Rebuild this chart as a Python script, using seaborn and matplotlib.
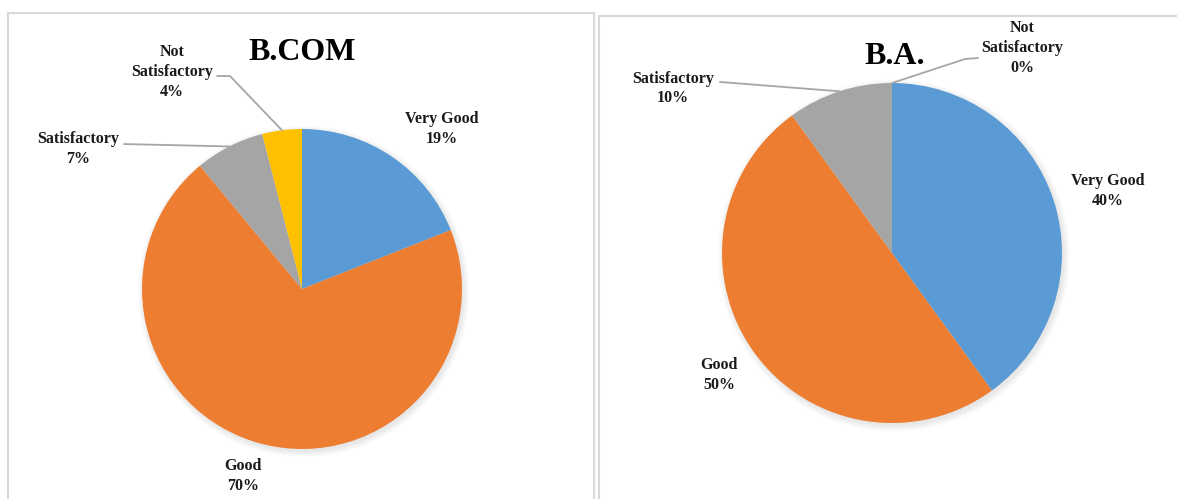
import matplotlib
matplotlib.use("Agg")
import matplotlib.pyplot as plt
from matplotlib.patches import Rectangle, Circle
import numpy as np
import seaborn as sns

# Data
categories = ["Very Good", "Good", "Satisfactory", "Not Satisfactory"]
bcom_values = [19, 70, 7, 4]
ba_values = [40, 50, 10, 0]
panel_titles = ["B.COM", "B.A."]

W, H = 1177, 499
colors = sns.color_palette(["#5B9BD5", "#ED7D31", "#A5A5A5", "#FFC000"])

sns.set_theme(style="white")
plt.rcParams["font.family"] = ["Liberation Serif", "DejaVu Serif"]


def fx(px):
    return px / W


def fy(py):
    return 1 - py / H


def pie_axes(fig, cx, cy, r):
    ax = fig.add_axes([fx(cx - r), fy(cy + r), 2 * r / W, 2 * r / H])
    return ax


def draw_pie(ax, values, label_pos, leaders):
    # soft shadow
    for i in range(6):
        ax.add_patch(Circle((0.01, -0.015), 1.0 + 0.007 * i, color="black",
                            alpha=0.016, lw=0, zorder=0, clip_on=False))
    wedges, _ = ax.pie(values, colors=colors, startangle=90, counterclock=False,
                       radius=1, wedgeprops=dict(linewidth=0, zorder=2))
    ax.set_xlim(-1, 1)
    ax.set_ylim(-1, 1)
    ax.axis("off")
    for i, (cat, val) in enumerate(zip(categories, values)):
        lx, ly = label_pos[i]
        txt = cat.replace("Not ", "Not\n") + f"\n{val}%"
        ax.text(lx, ly, txt, ha="center", va="center", fontsize=11.5,
                fontweight="bold", color="#1a1a1a", linespacing=1.3,
                clip_on=False, zorder=5)
        if i in leaders:
            w = wedges[i]
            mid = np.deg2rad((w.theta1 + w.theta2) / 2)
            pts = leaders[i] + [(np.cos(mid), np.sin(mid))]
            xs, ys = zip(*pts)
            ax.plot(xs, ys, color="#A6A6A6", lw=1.3, clip_on=False, zorder=4)


fig = plt.figure(figsize=(W / 100, H / 100), dpi=100)

# panel frames
fig.add_artist(Rectangle((fx(8), fy(510)), fx(586), 510 / H - 13 / H,
                         transform=fig.transFigure, fill=False,
                         ec="#D9D9D9", lw=1.5))
fig.add_artist(Rectangle((fx(599), fy(510)), fx(600), 510 / H - 16 / H,
                         transform=fig.transFigure, fill=False,
                         ec="#D9D9D9", lw=1.5))

# B.COM
ax1 = pie_axes(fig, 302, 289, 160)
draw_pie(ax1, bcom_values,
         [(0.875, 1.0), (-0.369, -1.169), (-1.40, 0.875), (-0.8125, 1.356)],
         {2: [(-1.1125, 0.906)], 3: [(-0.531, 1.331), (-0.45, 1.331)]})
fig.text(fx(302), fy(53), panel_titles[0], ha="center", va="center",
         fontsize=23, fontweight="bold", color="black")

# B.A.
ax2 = pie_axes(fig, 892, 253, 170)
draw_pie(ax2, ba_values,
         [(1.271, 0.365), (-1.018, -0.718), (-1.288, 0.968), (0.765, 1.206)],
         {2: [(-1.012, 1.006)], 3: [(0.506, 1.147), (0.429, 1.141)]})
fig.text(fx(895), fy(57), panel_titles[1], ha="center", va="center",
         fontsize=23, fontweight="bold", color="black")

fig.savefig("out.png", dpi=100, facecolor="white")
